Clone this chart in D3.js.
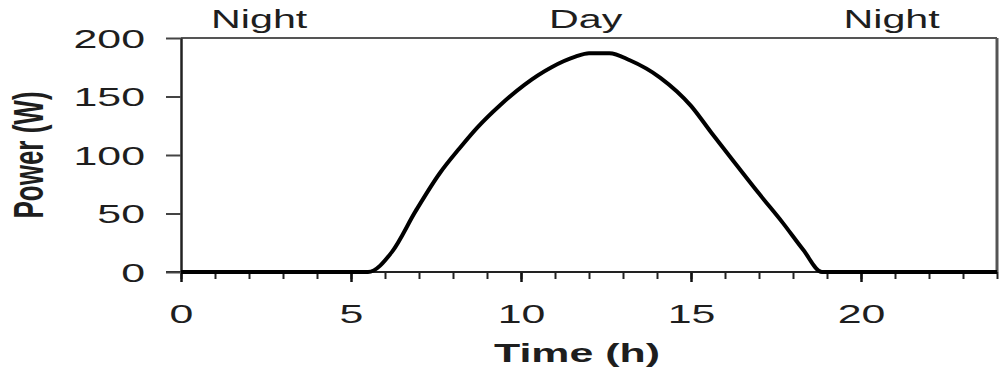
<!DOCTYPE html>
<html>
<head>
	<title>Power over a day</title>
	<script src="https://d3js.org/d3.v7.min.js"></script>
	<style>
	body { margin: 0; background: #fff; }
	text { font-family: "Liberation Sans", Arial, sans-serif; fill: #1e1e1e; }
	</style>
</head>
<body>
<script type="text/javascript">

// data
const hours = [0, 5.5, 6.2, 6.9, 7.6, 8.2, 8.7, 9.4, 10.1, 10.9, 11.6, 12.0, 12.6, 13.2, 14.1, 15.0, 15.6, 16.35, 17.0, 17.7, 18.3, 18.85, 24]
const power = [0, 0, 17, 52, 84, 106, 123, 143, 160, 175, 184, 187, 187, 181, 166, 142, 119, 91, 67, 42, 19, 0, 0]

const periodLabels = ["Night", "Day", "Night"]
const periodHours = [2.3, 11.9, 20.9]

const yTicks = [0, 50, 100, 150, 200]
const xMajorTicks = [0, 5, 10, 15, 20]
const xMinorTicks = d3.range(0, 25)

// the reference is stretched sideways, so the text is too
const sx = 1.65

const width = 1000
const height = 376

const svg = d3.select("body").append("svg")
	.attr("width", width)
	.attr("height", height)

const x = d3.scaleLinear().domain([0, 24]).range([181, 997])
const y = d3.scaleLinear().domain([0, 200]).range([272, 38])

// frame on top and right
svg.append("line")
	.attr("x1", x(0)).attr("x2", x(24))
	.attr("y1", y(200)).attr("y2", y(200))
	.attr("stroke", "#555").attr("stroke-width", 2)
svg.append("line")
	.attr("x1", x(24)).attr("x2", x(24))
	.attr("y1", y(200)).attr("y2", y(0))
	.attr("stroke", "#555").attr("stroke-width", 3)

// minor ticks on x
svg.append("g")
	.attr("transform", "translate(0," + y(0) + ")")
	.call(d3.axisBottom(x).tickValues(xMinorTicks).tickSize(7).tickSizeOuter(0).tickFormat(""))
	.call(g => g.select(".domain").remove())
	.call(g => g.selectAll("line").attr("stroke", "#222").attr("stroke-width", 2))

// major ticks and labels on x
const xAxis = svg.append("g")
	.attr("transform", "translate(0," + y(0) + ")")
	.call(d3.axisBottom(x).tickValues(xMajorTicks).tickSize(10).tickSizeOuter(0))
xAxis.select(".domain").remove()
xAxis.selectAll("line").attr("stroke", "#111").attr("stroke-width", 2.5)
xAxis.selectAll("text")
	.attr("y", 33)
	.attr("dy", "0.71em")
	.attr("font-size", 26)
	.attr("transform", "scale(" + sx + ",1)")

// x axis base line, runs out to the y tick at 0
svg.append("line")
	.attr("x1", x(0) - 15).attr("x2", x(24))
	.attr("y1", y(0)).attr("y2", y(0))
	.attr("stroke", "#222").attr("stroke-width", 2)

// y axis
const yAxis = svg.append("g")
	.attr("transform", "translate(" + x(0) + ",0)")
	.call(d3.axisLeft(y).tickValues(yTicks).tickSize(15).tickSizeOuter(0))
yAxis.select(".domain").attr("stroke", "#222").attr("stroke-width", 2.5)
yAxis.selectAll("line").attr("stroke", "#444").attr("stroke-width", 2)
yAxis.selectAll("text")
	.attr("x", 0)
	.attr("dy", "0.36em")
	.attr("font-size", 26)
	.attr("transform", "translate(-36,0) scale(" + sx + ",1)")

// the power curve
const pts = hours.map((h, i) => [h, power[i]])
svg.append("path")
	.datum(pts)
	.attr("fill", "none")
	.attr("stroke", "#000")
	.attr("stroke-width", 4)
	.attr("stroke-linejoin", "round")
	.attr("d", d3.line().x(d => x(d[0])).y(d => y(d[1])).curve(d3.curveMonotoneX))

// night / day labels on top
svg.selectAll(".period")
	.data(periodLabels)
	.enter()
	.append("text")
	.attr("class", "period")
	.attr("text-anchor", "middle")
	.attr("font-size", 25)
	.attr("transform", (d, i) => "translate(" + x(periodHours[i]) + ",28) scale(" + sx + ",1)")
	.text(d => d)

// axis titles
svg.append("text")
	.attr("text-anchor", "middle")
	.attr("font-size", 26)
	.attr("font-weight", "bold")
	.attr("transform", "translate(577,362) scale(" + sx + ",1)")
	.text("Time (h)")

svg.append("text")
	.attr("text-anchor", "middle")
	.attr("font-size", 26)
	.attr("font-weight", "bold")
	.attr("transform", "translate(43,155) scale(" + sx + ",1) rotate(-90)")
	.text("Power (W)")

</script>
</body>
</html>
